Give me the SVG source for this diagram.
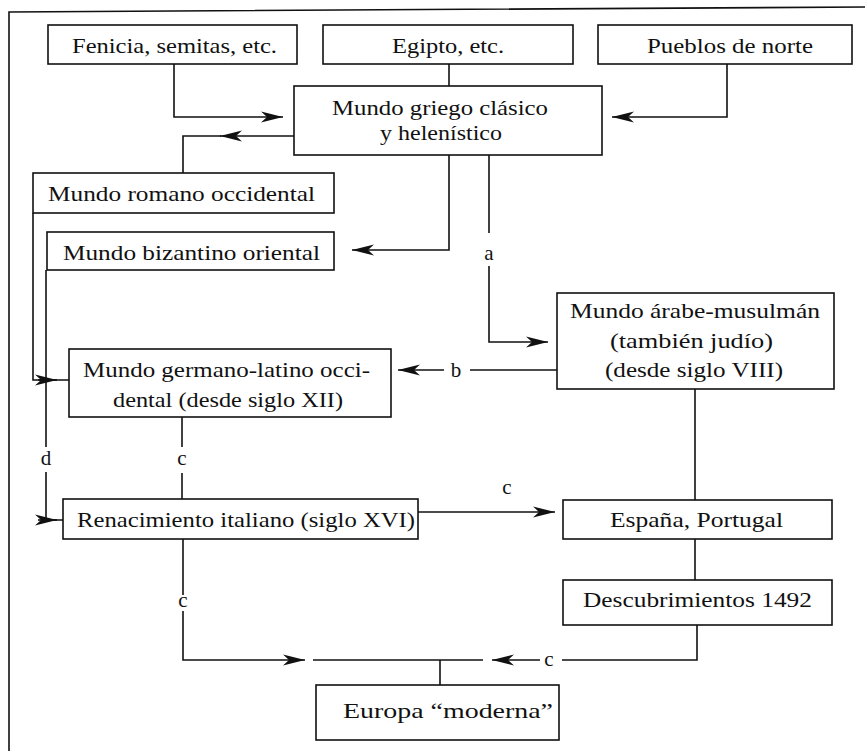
<svg xmlns="http://www.w3.org/2000/svg" width="865" height="751" viewBox="0 0 865 751">
<style>
.box{fill:#fff;stroke:#111;stroke-width:1.6}
.ln{fill:none;stroke:#111;stroke-width:1.6}
.t{font-family:"Liberation Serif",serif;font-size:22px;fill:#111}
.lb{font-family:"Liberation Serif",serif;font-size:21px;fill:#111;text-anchor:middle}
</style>
<defs>
<marker id="ah" markerUnits="userSpaceOnUse" viewBox="0 0 22 13" refX="22" refY="6.5" markerWidth="22" markerHeight="13" orient="auto">
<path d="M0,1 L22,6.5 L0,12 L6,6.5 Z" fill="#111"/>
</marker>
</defs>
<rect width="865" height="751" fill="#fff"/>
<path class="ln" d="M9,751 L9,12 L865,7"/>
<g id="connectors">
<path class="ln" d="M174,64 V117 H283" marker-end="url(#ah)"/>
<path class="ln" d="M449,64 V86"/>
<path class="ln" d="M727,64 V117 H612" marker-end="url(#ah)"/>
<path class="ln" d="M294,136 H220" marker-end="url(#ah)"/>
<path class="ln" d="M221,136 H183 V173"/>
<path class="ln" d="M449,155 V250 H352" marker-end="url(#ah)"/>
<path class="ln" d="M489,155 V233"/>
<path class="ln" d="M489,266 V342 H548" marker-end="url(#ah)"/>
<text class="lb" x="489" y="260">a</text>
<path class="ln" d="M557,370 H470"/>
<path class="ln" d="M444,370 H398" marker-end="url(#ah)"/>
<text class="lb" x="456" y="377">b</text>
<path class="ln" d="M33,213 V380 H69"/>
<path class="ln" d="M38,380 H57" marker-end="url(#ah)"/>
<path class="ln" d="M46,270 V447"/>
<path class="ln" d="M46,472 V520 H63"/>
<path class="ln" d="M38,520 H57" marker-end="url(#ah)"/>
<text class="lb" x="46" y="465">d</text>
<path class="ln" d="M182,417 V447"/>
<path class="ln" d="M182,473 V499"/>
<text class="lb" x="182" y="465">c</text>
<path class="ln" d="M418,512 H555" marker-end="url(#ah)"/>
<text class="lb" x="507" y="494">c</text>
<path class="ln" d="M695,389 V500"/>
<path class="ln" d="M695,539 V580"/>
<path class="ln" d="M183,539 V595"/>
<path class="ln" d="M183,611 V660 H305" marker-end="url(#ah)"/>
<text class="lb" x="183" y="607">c</text>
<path class="ln" d="M313,660 H483"/>
<path class="ln" d="M697,625 V660 H562"/>
<path class="ln" d="M540,660 H492" marker-end="url(#ah)"/>
<text class="lb" x="549" y="666">c</text>
<path class="ln" d="M440,660 V685"/>
</g>
<g id="fenicia"><rect class="box" x="48" y="25" width="249" height="39"/><text class="t" x="72" y="53" textLength="205" lengthAdjust="spacingAndGlyphs">Fenicia, semitas, etc.</text></g>
<g id="egipto"><rect class="box" x="323" y="25" width="250" height="39"/><text class="t" x="392" y="53" textLength="112" lengthAdjust="spacingAndGlyphs">Egipto, etc.</text></g>
<g id="pueblos"><rect class="box" x="598" y="25" width="254" height="39"/><text class="t" x="647" y="53" textLength="166" lengthAdjust="spacingAndGlyphs">Pueblos de norte</text></g>
<g id="griego"><rect class="box" x="294" y="86" width="308" height="69"/><text class="t" x="332" y="115" textLength="216" lengthAdjust="spacingAndGlyphs">Mundo griego clásico</text><text class="t" x="380" y="140" textLength="122" lengthAdjust="spacingAndGlyphs">y helenístico</text></g>
<g id="romano"><rect class="box" x="33" y="173" width="301" height="40"/><text class="t" x="48" y="201" textLength="267" lengthAdjust="spacingAndGlyphs">Mundo romano occidental</text></g>
<g id="bizantino"><rect class="box" x="47" y="232" width="287" height="38"/><text class="t" x="63" y="260" textLength="257" lengthAdjust="spacingAndGlyphs">Mundo bizantino oriental</text></g>
<g id="arabe"><rect class="box" x="557" y="293" width="277" height="96"/><text class="t" x="570" y="318" textLength="250" lengthAdjust="spacingAndGlyphs">Mundo árabe-musulmán</text><text class="t" x="610" y="348" textLength="163" lengthAdjust="spacingAndGlyphs">(también judío)</text><text class="t" x="605" y="377" textLength="178" lengthAdjust="spacingAndGlyphs">(desde siglo VIII)</text></g>
<g id="germano"><rect class="box" x="69" y="349" width="322" height="68"/><text class="t" x="83" y="377" textLength="287" lengthAdjust="spacingAndGlyphs">Mundo germano-latino occi-</text><text class="t" x="113" y="407" textLength="230" lengthAdjust="spacingAndGlyphs">dental (desde siglo XII)</text></g>
<g id="renacimiento"><rect class="box" x="63" y="499" width="355" height="40"/><text class="t" x="77" y="527" textLength="338" lengthAdjust="spacingAndGlyphs">Renacimiento italiano (siglo XVI)</text></g>
<g id="espana"><rect class="box" x="563" y="500" width="269" height="39"/><text class="t" x="610" y="527" textLength="173" lengthAdjust="spacingAndGlyphs">España, Portugal</text></g>
<g id="descubrimientos"><rect class="box" x="563" y="580" width="269" height="45"/><text class="t" x="583" y="607" textLength="229" lengthAdjust="spacingAndGlyphs">Descubrimientos 1492</text></g>
<g id="europa"><rect class="box" x="316" y="685" width="243" height="55"/><text class="t" x="343" y="718" textLength="210" lengthAdjust="spacingAndGlyphs">Europa “moderna”</text></g>
</svg>
